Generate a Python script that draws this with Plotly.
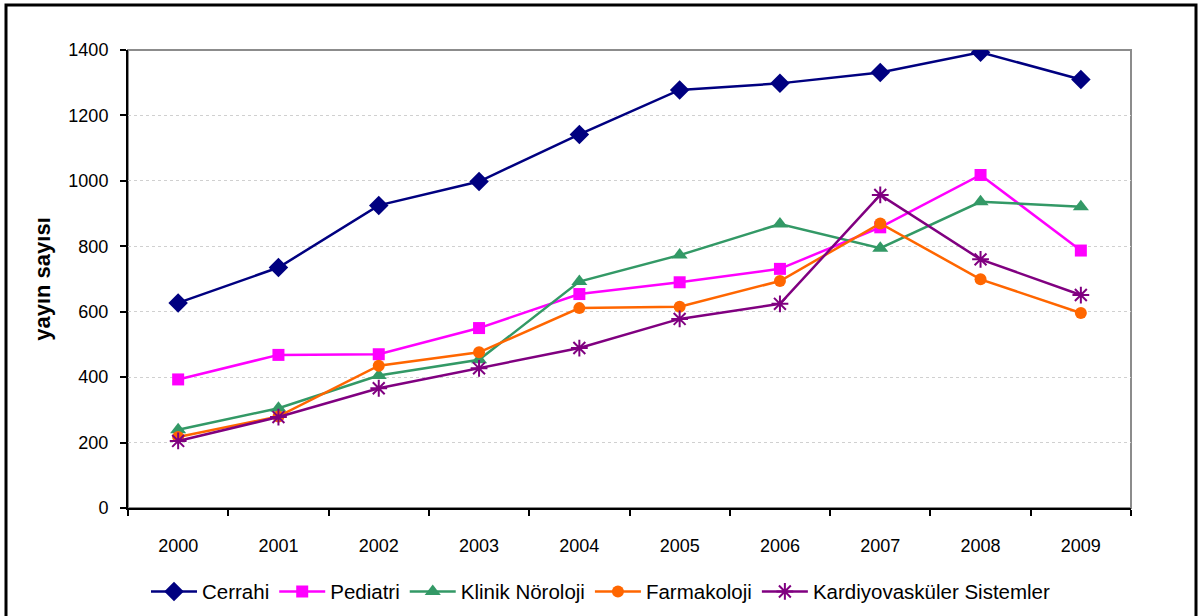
import plotly.graph_objects as go

years = ["2000", "2001", "2002", "2003", "2004", "2005", "2006", "2007", "2008", "2009"]
cerrahi = [627, 735, 925, 998, 1142, 1278, 1298, 1331, 1393, 1310]
pediatri = [393, 468, 470, 550, 654, 690, 731, 858, 1018, 787]
klinik = [239, 305, 405, 453, 692, 773, 868, 794, 936, 921]
farmakoloji = [217, 280, 435, 476, 611, 615, 694, 870, 699, 596]
kardiyo = [205, 278, 366, 427, 489, 578, 624, 957, 760, 651]
y_ticks = [0, 200, 400, 600, 800, 1000, 1200, 1400]

series = [
    ("Cerrahi", cerrahi, "#000080", "diamond", 15, 2.5),
    ("Pediatri", pediatri, "#FF00FF", "square", 12, 2.5),
    ("Klinik Nöroloji", klinik, "#339966", "triangle-up", 14, 2.5),
    ("Farmakoloji", farmakoloji, "#FF6600", "circle", 12, 2.5),
]

fig = go.Figure()
for name, vals, color, sym, size, lw in series:
    fig.add_trace(go.Scatter(
        x=years, y=vals, name=name, mode="lines+markers",
        line=dict(color=color, width=lw),
        marker=dict(symbol=sym, size=size, color=color, line=dict(width=0)),
    ))
fig.add_trace(go.Scatter(
    x=years, y=kardiyo, name="Kardiyovasküler Sistemler", mode="lines+markers",
    line=dict(color="#800080", width=2.5),
    marker=dict(symbol="asterisk-open", size=14, color="#800080",
                line=dict(width=2, color="#800080")),
))

font_family = "Liberation Sans, Arial, sans-serif"
L, R, T, B = 128, 1131, 50, 508.3
W, H = 1200, 616
pw, ph = R - L, B - T

fig.update_layout(
    width=W, height=H,
    margin=dict(l=L, r=W - R, t=T, b=H - B, autoexpand=False),
    paper_bgcolor="white", plot_bgcolor="white",
    font=dict(family=font_family, size=18, color="black"),
    showlegend=True,
    legend=dict(orientation="h", x=(601 - L) / pw, xanchor="center",
                y=(B - 592) / ph, yanchor="middle",
                font=dict(size=20.5, color="black"), itemwidth=46,
                bgcolor="rgba(0,0,0,0)"),
    xaxis=dict(
        type="category", range=[-0.5, 9.5], automargin=False,
        showline=True, linecolor="black", linewidth=2,
        ticks="outside", tickson="boundaries", ticklen=6, tickwidth=2, tickcolor="black",
        showgrid=False, ticklabelstandoff=20,
        tickfont=dict(size=18, color="black"),
    ),
    yaxis=dict(
        range=[0, 1400], tickvals=y_ticks, automargin=False,
        showline=True, linecolor="black", linewidth=2,
        ticks="outside", ticklen=6, tickwidth=2, tickcolor="black",
        showgrid=True, gridcolor="#d0d0d0", gridwidth=1, griddash="dot",
        zeroline=False, ticklabelstandoff=8,
        tickfont=dict(size=18, color="black"),
        title=dict(text="<b>yayın sayısı</b>", font=dict(size=22, color="black"), standoff=12),
    ),
    shapes=[
        dict(type="rect", xref="paper", yref="paper", x0=0, x1=1, y0=0, y1=1,
             line=dict(color="#8c8c8c", width=2), layer="below"),
        dict(type="rect", xref="paper", yref="paper",
             x0=(6 - L) / pw, x1=(1196 - L) / pw,
             y0=(B - 640) / ph, y1=(B - 5) / ph,
             line=dict(color="black", width=3)),
    ],
)

fig.write_html("out.html", config={"displayModeBar": False},
               post_script="document.body.style.margin='0';document.body.style.overflow='hidden';")
